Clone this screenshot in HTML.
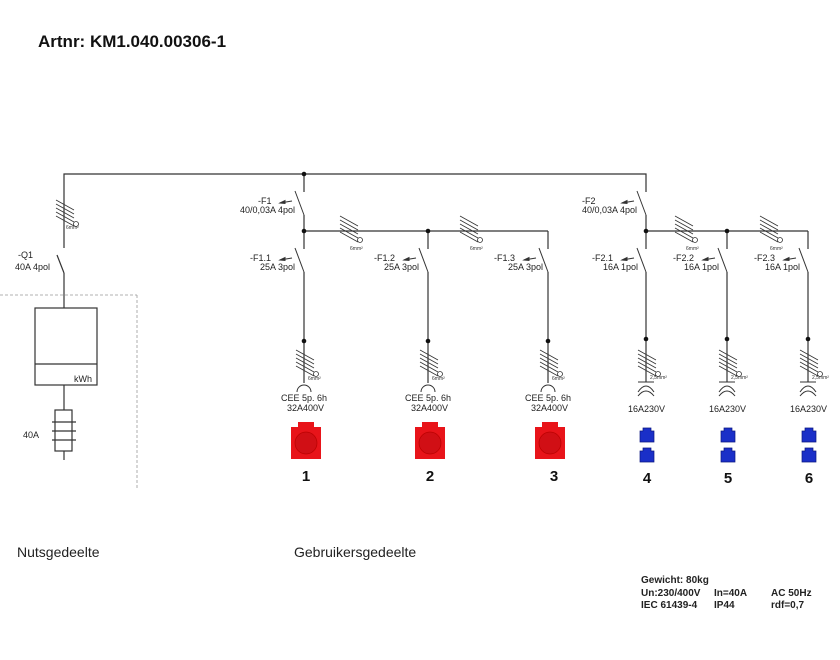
<!DOCTYPE html>
<html><head><meta charset="utf-8"><style>
html,body{margin:0;padding:0;background:#fff;}
svg{display:block;font-family:"Liberation Sans",sans-serif;}
</style></head><body>
<svg width="840" height="660" viewBox="0 0 840 660" xmlns="http://www.w3.org/2000/svg">
<defs>
<g id="hatch" stroke="#333" stroke-width="0.8" fill="none">
  <line x1="-8" y1="-10" x2="10" y2="0"/><line x1="-8" y1="-6" x2="10" y2="4"/>
  <line x1="-8" y1="-2" x2="10" y2="8"/><line x1="-8" y1="2" x2="10" y2="12"/>
  <line x1="-8" y1="6" x2="10" y2="16"/>
  <circle cx="12" cy="14" r="2.5"/>
</g>
<g id="sw" stroke="#333" stroke-width="1" fill="none">
  <line x1="0" y1="0" x2="-9" y2="-24"/>
  <line x1="-12" y1="-14" x2="-24" y2="-12"/>
  <path d="M-24,-12 l5,-2.5 l0,3z" fill="#333"/>
</g>
<g id="red">
  <path d="M-15,-11 h7 v-5 h16 v5 h7 v32 h-30z" fill="#e8141a"/>
  <circle cx="0" cy="5" r="11" fill="#d10f15" stroke="#b00" stroke-width="0.7"/>
</g>
<g id="blue">
  <path d="M-7,-4 h3 v-3 h8 v3 h3 v11 h-14z" fill="#1a2fc8" stroke="#0a1680" stroke-width="0.7"/>
</g>
</defs>

<text x="38" y="47" font-size="17" font-weight="bold" fill="#111">Artnr: KM1.040.00306-1</text>

<g stroke="#333" stroke-width="1.2" fill="none">
  <polyline points="64,248 64,174 646,174 646,192"/>
  <line x1="304" y1="174" x2="304" y2="192"/>
  <line x1="64" y1="273" x2="64" y2="308"/>
  <line x1="64" y1="273" x2="57" y2="255"/>
  <rect x="35" y="308" width="62" height="77"/>
  <line x1="35" y1="364" x2="97" y2="364"/>
  <line x1="64" y1="385" x2="64" y2="410"/>
  <rect x="55" y="410" width="17" height="41"/>
  <line x1="64" y1="451" x2="64" y2="460"/>
  <line x1="52" y1="422" x2="76" y2="422"/><line x1="52" y1="431" x2="76" y2="431"/><line x1="52" y1="440" x2="76" y2="440"/>
  <line x1="304" y1="215" x2="304" y2="249"/>
  <line x1="304" y1="231" x2="548" y2="231"/>
  <line x1="428" y1="231" x2="428" y2="249"/><line x1="548" y1="231" x2="548" y2="249"/>
  <line x1="646" y1="215" x2="646" y2="249"/>
  <line x1="646" y1="231" x2="808" y2="231"/>
  <line x1="727" y1="231" x2="727" y2="249"/><line x1="808" y1="231" x2="808" y2="249"/>
  <line x1="304" y1="272" x2="304" y2="383"/>
  <line x1="428" y1="272" x2="428" y2="383"/>
  <line x1="548" y1="272" x2="548" y2="383"/>
  <line x1="646" y1="272" x2="646" y2="382"/>
  <line x1="727" y1="272" x2="727" y2="382"/>
  <line x1="808" y1="272" x2="808" y2="382"/>
  <g stroke-width="1">
  <path d="M297,392 a7,7 0 0 1 14,0"/><path d="M421,392 a7,7 0 0 1 14,0"/><path d="M541,392 a7,7 0 0 1 14,0"/>
  <line x1="638" y1="382" x2="654" y2="382"/><path d="M638,392 q8,-12 16,0"/><path d="M638,396 q8,-10 16,0"/>
  <line x1="719" y1="382" x2="735" y2="382"/><path d="M719,392 q8,-12 16,0"/><path d="M719,396 q8,-10 16,0"/>
  <line x1="800" y1="382" x2="816" y2="382"/><path d="M800,392 q8,-12 16,0"/><path d="M800,396 q8,-10 16,0"/>
  </g>
</g>
<line x1="0" y1="295" x2="137" y2="295" stroke="#999" stroke-width="0.8" stroke-dasharray="3,2"/>
<line x1="137" y1="295" x2="137" y2="490" stroke="#999" stroke-width="0.8" stroke-dasharray="3,2"/>

<use href="#sw" x="304" y="215"/><use href="#sw" x="646" y="215"/>
<use href="#sw" x="304" y="272"/><use href="#sw" x="428" y="272"/><use href="#sw" x="548" y="272"/>
<use href="#sw" x="646" y="272"/><use href="#sw" x="727" y="272"/><use href="#sw" x="808" y="272"/>

<use href="#hatch" x="64" y="210"/>
<use href="#hatch" x="348" y="226"/><use href="#hatch" x="468" y="226"/>
<use href="#hatch" x="683" y="226"/><use href="#hatch" x="768" y="226"/>
<use href="#hatch" x="304" y="360"/><use href="#hatch" x="428" y="360"/><use href="#hatch" x="548" y="360"/>
<use href="#hatch" x="646" y="360"/><use href="#hatch" x="727" y="360"/><use href="#hatch" x="808" y="360"/>

<g fill="#111">
<circle cx="304" cy="174" r="2.3"/><circle cx="304" cy="231" r="2.3"/><circle cx="428" cy="231" r="2.3"/>
<circle cx="646" cy="231" r="2.3"/><circle cx="727" cy="231" r="2.3"/>
<circle cx="304" cy="341" r="2.3"/><circle cx="428" cy="341" r="2.3"/><circle cx="548" cy="341" r="2.3"/>
<circle cx="646" cy="339" r="2.3"/><circle cx="727" cy="339" r="2.3"/><circle cx="808" cy="339" r="2.3"/>
</g>

<g font-size="9" fill="#222">
<text x="18" y="258">-Q1</text><text x="15" y="270">40A 4pol</text>
<text x="74" y="382">kWh</text>
<text x="23" y="438">40A</text>
<text x="258" y="204">-F1</text><text x="240" y="213">40/0,03A 4pol</text>
<text x="582" y="204">-F2</text><text x="582" y="213">40/0,03A 4pol</text>
<text x="250" y="261">-F1.1</text><text x="260" y="270">25A 3pol</text>
<text x="374" y="261">-F1.2</text><text x="384" y="270">25A 3pol</text>
<text x="494" y="261">-F1.3</text><text x="508" y="270">25A 3pol</text>
<text x="592" y="261">-F2.1</text><text x="603" y="270">16A 1pol</text>
<text x="673" y="261">-F2.2</text><text x="684" y="270">16A 1pol</text>
<text x="754" y="261">-F2.3</text><text x="765" y="270">16A 1pol</text>
<text x="281" y="401">CEE 5p. 6h</text><text x="287" y="411">32A400V</text>
<text x="405" y="401">CEE 5p. 6h</text><text x="411" y="411">32A400V</text>
<text x="525" y="401">CEE 5p. 6h</text><text x="531" y="411">32A400V</text>
<text x="628" y="412">16A230V</text><text x="709" y="412">16A230V</text><text x="790" y="412">16A230V</text>
</g>
<g font-size="5" fill="#333">
<text x="66" y="229">6mm²</text><text x="350" y="250">6mm²</text><text x="470" y="250">6mm²</text>
<text x="686" y="250">6mm²</text><text x="770" y="250">6mm²</text>
<text x="308" y="380">6mm²</text><text x="432" y="380">6mm²</text><text x="552" y="380">6mm²</text>
<text x="650" y="379">2,5mm²</text><text x="731" y="379">2,5mm²</text><text x="812" y="379">2,5mm²</text>
</g>

<use href="#red" x="306" y="438"/><use href="#red" x="430" y="438"/><use href="#red" x="550" y="438"/>
<use href="#blue" x="647" y="435"/><use href="#blue" x="647" y="455"/>
<use href="#blue" x="728" y="435"/><use href="#blue" x="728" y="455"/>
<use href="#blue" x="809" y="435"/><use href="#blue" x="809" y="455"/>

<g font-size="15" font-weight="bold" fill="#111" text-anchor="middle">
<text x="306" y="481">1</text><text x="430" y="481">2</text><text x="554" y="481">3</text>
<text x="647" y="483">4</text><text x="728" y="483">5</text><text x="809" y="483">6</text>
</g>

<text x="17" y="557" font-size="14" fill="#222">Nutsgedeelte</text>
<text x="294" y="557" font-size="14" fill="#222">Gebruikersgedeelte</text>

<g font-size="10" font-weight="bold" fill="#222">
<text x="641" y="583">Gewicht: 80kg</text>
<text x="641" y="596">Un:230/400V</text><text x="714" y="596">In=40A</text><text x="771" y="596">AC 50Hz</text>
<text x="641" y="608">IEC 61439-4</text><text x="714" y="608">IP44</text><text x="771" y="608">rdf=0,7</text>
</g>
</svg>
</body></html>
